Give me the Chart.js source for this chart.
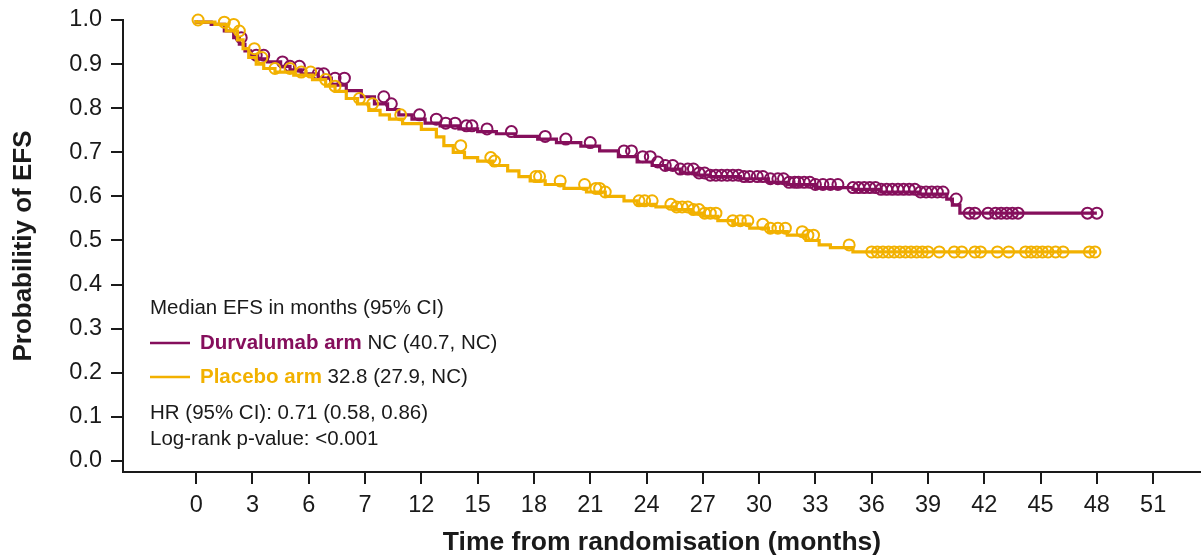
<!DOCTYPE html>
<html>
<head>
<meta charset="utf-8">
<script src="https://cdn.jsdelivr.net/npm/chart.js@4"></script>
<style>
  html, body { margin: 0; padding: 0; background: #fff; }
  #wrap { width: 1201px; height: 559px; position: relative; }
</style>
</head>
<body>
<div id="wrap"><canvas id="efsChart"></canvas></div>
<script>
// Kaplan-Meier steps: time (months) where survival drops, and the value after the drop
const durvaTimes = [0, 0.8, 1.5, 2.0, 2.3, 2.6, 2.9, 3.2, 3.8, 4.5, 5.0, 5.6, 6.5, 7.2, 8.0, 8.8, 9.5, 10.2, 10.8, 11.5,
  12.2, 13.0, 14.0, 15.0, 16.0, 17.0, 18.2, 19.2, 20.5, 21.5, 22.5, 23.5, 24.3, 25.0, 25.8, 26.6, 27.4, 29.0, 30.5, 31.5,
  33.0, 35.0, 36.5, 38.5, 40.0, 40.3, 40.7, 41.0, 48.0];
const durvaSurv = [1.0, 0.995, 0.99, 0.975, 0.96, 0.945, 0.93, 0.92, 0.912, 0.905, 0.895, 0.887, 0.878, 0.868, 0.852, 0.84, 0.826, 0.81, 0.797, 0.785,
  0.775, 0.766, 0.76, 0.753, 0.747, 0.742, 0.736, 0.73, 0.722, 0.714, 0.703, 0.69, 0.678, 0.67, 0.662, 0.653, 0.648, 0.645, 0.64, 0.632,
  0.627, 0.62, 0.616, 0.61, 0.605, 0.594, 0.58, 0.562, 0.562];
const durvaCensored = [2.4, 3.2, 3.6, 4.6, 5.0, 5.5, 6.5, 6.8, 7.4, 7.9, 10.0, 10.4, 11.9, 12.8, 13.3, 13.8, 14.4, 14.7, 15.5, 16.8,
  18.6, 19.7, 21.0, 22.8, 23.2, 23.8, 24.2, 24.6, 25.0, 25.4, 25.8, 26.2, 26.5, 26.8, 27.1, 27.4, 27.7, 28.0, 28.3, 28.6,
  28.9, 29.2, 29.5, 29.9, 30.2, 30.6, 31.0, 31.3, 31.6, 31.9, 32.1, 32.4, 32.7, 33.0, 33.4, 33.8, 34.2, 35.0, 35.3, 35.6,
  35.9, 36.2, 36.5, 36.8, 37.1, 37.4, 37.7, 38.0, 38.3, 38.6, 38.9, 39.2, 39.5, 39.8, 40.5, 41.2, 41.5, 42.2, 42.6, 42.9,
  43.2, 43.5, 43.8, 47.5, 48.0];

const placeboTimes = [0, 1.0, 1.6, 2.2, 2.5, 2.8, 3.2, 3.6, 4.2, 5.2, 6.2, 6.9, 7.4, 8.0, 8.6, 9.2, 9.8, 10.3, 11.0, 12.0,
  12.8, 13.2, 13.7, 14.3, 15.0, 15.8, 16.6, 17.2, 17.8, 18.6, 19.6, 20.8, 21.8, 22.8, 23.5, 24.5, 25.5, 26.4, 27.0, 27.8,
  28.6, 29.5, 30.5, 31.5, 32.5, 33.2, 33.8, 35.0, 35.8, 48.0];
const placeboSurv = [1.0, 0.995, 0.99, 0.975, 0.955, 0.935, 0.915, 0.9, 0.89, 0.882, 0.875, 0.865, 0.85, 0.838, 0.822, 0.81, 0.795, 0.785, 0.775, 0.765,
  0.752, 0.735, 0.715, 0.7, 0.688, 0.68, 0.67, 0.658, 0.645, 0.635, 0.627, 0.618, 0.61, 0.6, 0.59, 0.582, 0.576, 0.57, 0.562, 0.555,
  0.545, 0.537, 0.528, 0.52, 0.512, 0.5, 0.49, 0.484, 0.474, 0.474];
const placeboCensored = [0.1, 1.5, 2.0, 2.3, 3.1, 3.5, 4.2, 5.0, 5.6, 6.1, 6.9, 7.4, 8.7, 9.4, 10.9, 14.1, 15.7, 15.9, 18.1, 18.3,
  19.4, 20.7, 21.3, 21.5, 21.8, 23.6, 23.9, 24.3, 25.3, 25.6, 25.9, 26.2, 26.5, 26.8, 27.1, 27.4, 27.7, 28.6, 29.0, 29.4,
  30.2, 30.6, 31.0, 31.4, 32.3, 32.6, 32.9, 34.8, 36.0, 36.3, 36.6, 36.9, 37.2, 37.5, 37.8, 38.1, 38.4, 38.7, 39.0, 39.6,
  40.4, 40.8, 41.5, 41.8, 42.7, 43.3, 44.2, 44.5, 44.8, 45.1, 45.4, 45.8, 46.2, 47.6, 47.9];

const xTicks = [0, 3, 6, 9, 12, 15, 18, 21, 24, 27, 30, 33, 36, 39, 42, 45, 48, 51];
const xTickLabels = ["0", "3", "6", "7", "12", "15", "18", "21", "24", "27", "30", "33", "36", "39", "42", "45", "48", "51"];
const yTicks = [0, 0.1, 0.2, 0.3, 0.4, 0.5, 0.6, 0.7, 0.8, 0.9, 1.0];
const yTickLabels = ["0.0", "0.1", "0.2", "0.3", "0.4", "0.5", "0.6", "0.7", "0.8", "0.9", "1.0"];

const legendTitle = "Median EFS in months (95% CI)";
const armNames = ["Durvalumab arm", "Placebo arm"];
const armMedians = [" NC (40.7, NC)", " 32.8 (27.9, NC)"];
const statLines = ["HR (95% CI): 0.71 (0.58, 0.86)", "Log-rank p-value: <0.001"];

const PURPLE = "#850f5c";
const GOLD = "#f2b100";
const INK = "#1a1a1a";
const FONT = "'Liberation Sans', Arial, sans-serif";

// value of the step curve at time t (for placing censor marks)
function survAt(times, surv, t) {
  let v = surv[0];
  for (let i = 0; i < times.length; i++) {
    if (times[i] <= t) v = surv[i];
  }
  return v;
}

const toPoints = (times, surv) => times.map((t, i) => ({ x: t, y: surv[i] }));
const censorPoints = (cens, times, surv) => cens.map(t => ({ x: t, y: survAt(times, surv, t) }));

const curveStyle = color => ({
  type: "line",
  stepped: "after",
  borderColor: color,
  borderWidth: 3.2,
  pointRadius: 0,
  fill: false,
  clip: false,
});
const markStyle = color => ({
  type: "scatter",
  borderColor: color,
  backgroundColor: "rgba(0,0,0,0)",
  borderWidth: 2,
  pointRadius: 5.5,
  pointStyle: "circle",
  showLine: false,
  clip: false,
});

const annotations = {
  id: "efsAnnotations",
  afterDraw(chart) {
    const ctx = chart.ctx;
    const x0 = 150;
    const size = "20.5px ";
    ctx.save();
    ctx.textBaseline = "middle";
    ctx.textAlign = "left";
    ctx.fillStyle = INK;
    ctx.font = size + FONT;
    ctx.fillText(legendTitle, x0, 308);

    const rows = [343, 377];
    const colors = [PURPLE, GOLD];
    rows.forEach((y, i) => {
      ctx.strokeStyle = colors[i];
      ctx.lineWidth = 2.5;
      ctx.beginPath();
      ctx.moveTo(x0, y);
      ctx.lineTo(x0 + 40, y);
      ctx.stroke();
      ctx.font = "bold " + size + FONT;
      ctx.fillStyle = colors[i];
      ctx.fillText(armNames[i], x0 + 50, y);
      const w = ctx.measureText(armNames[i]).width;
      ctx.font = size + FONT;
      ctx.fillStyle = INK;
      ctx.fillText(armMedians[i], x0 + 50 + w, y);
    });

    ctx.font = size + FONT;
    ctx.fillStyle = INK;
    ctx.fillText(statLines[0], x0, 413);
    ctx.fillText(statLines[1], x0, 439);
    ctx.restore();
  },
};

const efsCtx = document.getElementById("efsChart").getContext("2d");

const efsChart = new Chart(efsCtx, {
  data: {
    datasets: [
      Object.assign({ data: censorPoints(placeboCensored, placeboTimes, placeboSurv), order: 0 }, markStyle(GOLD)),
      Object.assign({ data: toPoints(placeboTimes, placeboSurv), order: 1 }, curveStyle(GOLD)),
      Object.assign({ data: censorPoints(durvaCensored, durvaTimes, durvaSurv), order: 2 }, markStyle(PURPLE)),
      Object.assign({ data: toPoints(durvaTimes, durvaSurv), order: 3 }, curveStyle(PURPLE)),
    ],
  },
  options: {
    responsive: true,
    maintainAspectRatio: false,
    animation: false,
    layout: { autoPadding: false, padding: { top: 20, right: 0, bottom: 0, left: 0 } },
    plugins: {
      legend: { display: false },
      tooltip: { enabled: false },
    },
    scales: {
      x: {
        type: "linear",
        min: -3.9,
        max: 53.55,
        afterBuildTicks: scale => { scale.ticks = xTicks.map(v => ({ value: v })); },
        afterFit: scale => {
          scale.height = 87;
          scale.paddingLeft = 0;
          scale.paddingRight = 0;
        },
        ticks: {
          autoSkip: false,
          maxRotation: 0,
          padding: 7,
          color: INK,
          font: { family: FONT, size: 23.5 },
          callback: (value, index) => xTickLabels[index],
        },
        grid: { drawOnChartArea: false, drawTicks: true, tickLength: 12, color: INK, lineWidth: 2 },
        border: { display: true, color: INK, width: 2 },
        title: {
          display: true,
          text: "Time from randomisation (months)",
          color: INK,
          font: { family: FONT, size: 26.5, weight: "bold" },
          padding: { top: 0, bottom: 0 },
        },
      },
      y: {
        type: "linear",
        min: -0.025,
        max: 1.0,
        afterBuildTicks: scale => { scale.ticks = yTicks.map(v => ({ value: v })); },
        afterFit: scale => {
          scale.width = 123;
          scale.paddingTop = 0;
          scale.paddingBottom = 0;
        },
        ticks: {
          autoSkip: false,
          padding: 9,
          color: INK,
          font: { family: FONT, size: 23.5 },
          callback: (value, index) => yTickLabels[index],
        },
        grid: { drawOnChartArea: false, drawTicks: true, tickLength: 12, color: INK, lineWidth: 2 },
        border: { display: true, color: INK, width: 2 },
        title: {
          display: true,
          text: "Probabilitiy of EFS",
          color: INK,
          font: { family: FONT, size: 26, weight: "bold" },
          padding: { top: 8, bottom: 0 },
        },
      },
    },
  },
  plugins: [annotations],
});
</script>
</body>
</html>
